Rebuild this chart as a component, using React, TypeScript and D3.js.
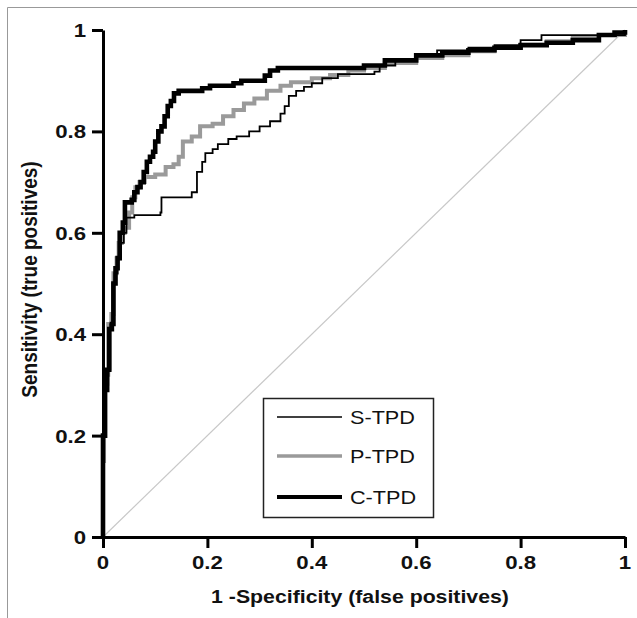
import React, { useEffect, useRef } from "react";
import * as d3 from "d3";

const xTicks = [0, 0.2, 0.4, 0.6, 0.8, 1];
const yTicks = [0, 0.2, 0.4, 0.6, 0.8, 1];
const tickLabels = ["0", "0.2", "0.4", "0.6", "0.8", "1"];

const sTPD: [number, number][] = [
  [0, 0], [0, 0.2], [0.004, 0.3], [0.01, 0.33], [0.014, 0.42], [0.018, 0.5], [0.022, 0.52],
  [0.028, 0.55], [0.034, 0.58], [0.04, 0.6], [0.045, 0.63], [0.06, 0.635], [0.11, 0.64],
  [0.112, 0.67], [0.17, 0.68], [0.18, 0.72], [0.19, 0.74], [0.196, 0.757], [0.21, 0.765],
  [0.22, 0.775], [0.24, 0.785], [0.256, 0.79], [0.28, 0.8], [0.3, 0.81], [0.32, 0.82],
  [0.34, 0.835], [0.348, 0.85], [0.356, 0.87], [0.37, 0.88], [0.385, 0.888], [0.4, 0.895],
  [0.42, 0.905], [0.45, 0.913], [0.52, 0.918], [0.53, 0.93], [0.56, 0.94], [0.6, 0.95],
  [0.64, 0.96], [0.7, 0.965], [0.75, 0.97], [0.8, 0.98], [0.84, 0.99], [0.93, 0.99], [1, 1],
];

const pTPD: [number, number][] = [
  [0, 0], [0, 0.15], [0.002, 0.3], [0.006, 0.32], [0.01, 0.42], [0.016, 0.44], [0.02, 0.52],
  [0.026, 0.55], [0.03, 0.58], [0.036, 0.6], [0.042, 0.61], [0.05, 0.64], [0.056, 0.67],
  [0.062, 0.69], [0.07, 0.7], [0.08, 0.71], [0.1, 0.715], [0.12, 0.73], [0.135, 0.735],
  [0.145, 0.75], [0.153, 0.78], [0.17, 0.79], [0.186, 0.81], [0.21, 0.815], [0.23, 0.83],
  [0.25, 0.842], [0.27, 0.855], [0.29, 0.865], [0.314, 0.88], [0.34, 0.89], [0.36, 0.897],
  [0.4, 0.905], [0.435, 0.911], [0.47, 0.92], [0.5, 0.925], [0.54, 0.935], [0.6, 0.945],
  [0.65, 0.95], [0.7, 0.958], [0.75, 0.965], [0.8, 0.972], [0.85, 0.978], [0.9, 0.985],
  [0.95, 0.99], [1, 1],
];

const cTPD: [number, number][] = [
  [0, 0], [0, 0.2], [0.004, 0.29], [0.008, 0.33], [0.012, 0.41], [0.017, 0.42], [0.02, 0.5],
  [0.024, 0.53], [0.028, 0.55], [0.032, 0.6], [0.038, 0.62], [0.042, 0.66], [0.05, 0.66],
  [0.055, 0.665], [0.06, 0.68], [0.066, 0.69], [0.072, 0.7], [0.078, 0.72], [0.084, 0.74],
  [0.09, 0.75], [0.096, 0.76], [0.1, 0.78], [0.106, 0.8], [0.112, 0.81], [0.118, 0.83],
  [0.124, 0.85], [0.13, 0.86], [0.136, 0.875], [0.145, 0.88], [0.19, 0.885], [0.205, 0.89],
  [0.25, 0.895], [0.265, 0.9], [0.31, 0.91], [0.32, 0.92], [0.335, 0.925], [0.47, 0.925],
  [0.5, 0.93], [0.54, 0.94], [0.6, 0.95], [0.65, 0.955], [0.7, 0.96], [0.75, 0.965],
  [0.8, 0.97], [0.85, 0.975], [0.9, 0.98], [0.95, 0.99], [0.98, 0.995], [1, 1],
];

const seriesNames = ["S-TPD", "P-TPD", "C-TPD"];
const xTitle = "1 -Specificity (false positives)";
const yTitle = "Sensitivity (true positives)";

export default function App() {
  const ref = useRef<SVGSVGElement>(null);

  useEffect(() => {
    const svg = d3.select(ref.current);
    svg.selectAll("*").remove();
    const W = 637, H = 618;
    const SX = 1.17;
    const x = d3.scaleLinear().domain([0, 1]).range([103, 625]);
    const y = d3.scaleLinear().domain([0, 1]).range([537, 30]);
    const font = "'Liberation Sans', Arial, sans-serif";

    svg.append("rect").attr("width", W).attr("height", H).attr("fill", "#fff");
    svg.append("path").attr("d", `M7.5,${H} V7.5 H${W}`).attr("fill", "none").attr("stroke", "#999").attr("stroke-width", 1);

    svg.append("line")
      .attr("x1", x(0)).attr("y1", y(0)).attr("x2", x(1)).attr("y2", y(1))
      .attr("stroke", "#c8c8c8").attr("stroke-width", 1.2);

    const line = d3.line<[number, number]>().x(d => x(d[0])).y(d => y(d[1])).curve(d3.curveStepAfter);

    const styles = [
      { data: pTPD, color: "#9a9a9a", w: 4 },
      { data: cTPD, color: "#000", w: 4.6 },
      { data: sTPD, color: "#000", w: 1.8 },
    ];
    styles.forEach(s => {
      svg.append("path").attr("d", line(s.data)!).attr("fill", "none")
        .attr("stroke", s.color).attr("stroke-width", s.w).attr("stroke-linejoin", "miter");
    });

    const gx = svg.append("g").attr("transform", `translate(0,${y(0)})`)
      .call(d3.axisBottom(x).tickValues(xTicks).tickSize(11).tickSizeOuter(0).tickFormat(() => ""));
    const gy = svg.append("g").attr("transform", `translate(${x(0)},0)`)
      .call(d3.axisLeft(y).tickValues(yTicks).tickSize(11).tickSizeOuter(0).tickFormat(() => ""));
    [gx, gy].forEach(g => {
      g.select(".domain").attr("stroke", "#000").attr("stroke-width", 3);
      g.selectAll(".tick line").attr("stroke", "#000").attr("stroke-width", 3);
    });

    const addText = (tx: number, ty: number, txt: string, anchor: string, size: number, bold: boolean, sx = SX) =>
      svg.append("text")
        .attr("transform", `translate(${tx},${ty}) scale(${sx},1)`)
        .attr("text-anchor", anchor).attr("font-family", font)
        .attr("font-weight", bold ? "bold" : "normal").attr("font-size", size).attr("fill", "#111")
        .text(txt);

    xTicks.forEach((v, i) => addText(x(v), 569, tickLabels[i], "middle", 19, true));
    yTicks.forEach((v, i) => addText(86, y(v) + 7, tickLabels[i], "end", 19, true));

    addText((x(0) + x(1)) / 2 - 4, 603, xTitle, "middle", 19, true, 1.12);
    svg.append("text").attr("transform", `translate(37,${(y(0) + y(1)) / 2 - 4}) rotate(-90) scale(1,${SX})`)
      .attr("text-anchor", "middle")
      .attr("font-family", font).attr("font-weight", "bold").attr("font-size", 19).attr("fill", "#111")
      .text(yTitle);

    const lg = svg.append("g");
    lg.append("rect").attr("x", 263.5).attr("y", 398.5).attr("width", 170).attr("height", 119)
      .attr("fill", "#fff").attr("stroke", "#222").attr("stroke-width", 1.5);
    const legendItems = [
      { name: seriesNames[0], color: "#000", w: 1.5, yy: 417 },
      { name: seriesNames[1], color: "#9a9a9a", w: 3.5, yy: 456 },
      { name: seriesNames[2], color: "#000", w: 4, yy: 497 },
    ];
    legendItems.forEach(it => {
      lg.append("line").attr("x1", 277).attr("x2", 342).attr("y1", it.yy).attr("y2", it.yy)
        .attr("stroke", it.color).attr("stroke-width", it.w);
      addText(350, it.yy + 6.5, it.name, "start", 18.5, false);
    });
  }, []);

  return (
    <svg ref={ref} width={637} height={618}
      style={{ position: "absolute", left: 0, top: 0, display: "block" }} />
  );
}
